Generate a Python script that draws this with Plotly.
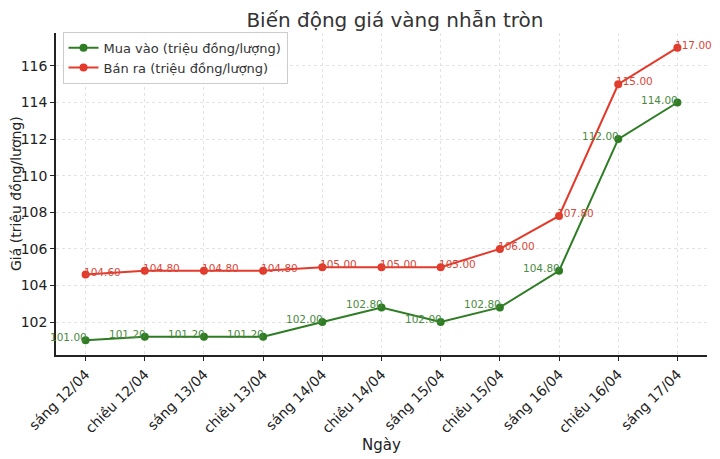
import plotly.graph_objects as go

dates = ["sáng 12/04", "chiều 12/04", "sáng 13/04", "chiều 13/04", "sáng 14/04",
         "chiều 14/04", "sáng 15/04", "chiều 15/04", "sáng 16/04", "chiều 16/04", "sáng 17/04"]
mua_vao = [101.0, 101.2, 101.2, 101.2, 102.0, 102.8, 102.0, 102.8, 104.8, 112.0, 114.0]
ban_ra = [104.6, 104.8, 104.8, 104.8, 105.0, 105.0, 105.0, 106.0, 107.8, 115.0, 117.0]
y_ticks = [102, 104, 106, 108, 110, 112, 114, 116]

GREEN = "#2e7d24"
RED = "#e33a2b"
FONT = "DejaVu Sans"

fig = go.Figure()
fig.add_trace(go.Scatter(
    x=dates, y=mua_vao, mode="lines+markers", name="Mua vào (triệu đồng/lượng)",
    line=dict(color=GREEN, width=2), marker=dict(color=GREEN, size=8),
))
fig.add_trace(go.Scatter(
    x=dates, y=ban_ra, mode="lines+markers", name="Bán ra (triệu đồng/lượng)",
    line=dict(color=RED, width=2), marker=dict(color=RED, size=8),
))

for d, v in zip(dates, mua_vao):
    fig.add_annotation(x=d, y=v, text=f"{v:.2f}", showarrow=False, xanchor="right",
                       yanchor="middle", xshift=3, yshift=3,
                       font=dict(family=FONT, size=10.5, color="#4b8a3f"))
for d, v in zip(dates, ban_ra):
    fig.add_annotation(x=d, y=v, text=f"{v:.2f}", showarrow=False, xanchor="left",
                       yanchor="middle", xshift=-4, yshift=3,
                       font=dict(family=FONT, size=10.5, color="#d8473a"))

# y-axis title
fig.add_annotation(x=0, y=0.5, xref="paper", yref="paper", xanchor="center", yanchor="middle",
                   xshift=-40, textangle=-90, showarrow=False,
                   text="Giá (triệu đồng/lượng)", font=dict(family=FONT, size=14, color="#222222"))

fig.update_layout(
    width=712, height=451,
    margin=dict(l=48, r=13, t=25, b=104),
    paper_bgcolor="white", plot_bgcolor="white",
    font=dict(family=FONT, color="#222222"),
    title=dict(text="Biến động giá vàng nhẫn tròn", x=0.5435, xanchor="center",
               y=0.973, yanchor="middle", font=dict(family=FONT, size=20, color="#333333")),
    legend=dict(x=0.01, y=1.004, xanchor="left", yanchor="top",
                bgcolor="rgba(255,255,255,0.85)", bordercolor="#cccccc", borderwidth=1,
                font=dict(family=FONT, size=13, color="#333333")),
    showlegend=True,
)
fig.update_xaxes(
    title=dict(text="Ngày", font=dict(family=FONT, size=15, color="#222222"), standoff=0),
    automargin=False,
    range=[-0.5, 10.5], tickangle=-45, tickfont=dict(family=FONT, size=14, color="#222222"),
    showgrid=True, gridcolor="#e3e3e3", griddash="dot", gridwidth=1,
    showline=True, linecolor="#222222", linewidth=1.5,
    ticks="outside", ticklen=4, tickcolor="#222222", zeroline=False,
)
fig.update_yaxes(
    automargin=False,
    range=[100.2, 117.8], tickvals=y_ticks, tickfont=dict(family=FONT, size=14, color="#222222"),
    showgrid=True, gridcolor="#e3e3e3", griddash="dot", gridwidth=1,
    showline=True, linecolor="#222222", linewidth=1.5,
    ticks="outside", ticklen=4, tickcolor="#222222", zeroline=False,
)

fig.write_html("out.html")
